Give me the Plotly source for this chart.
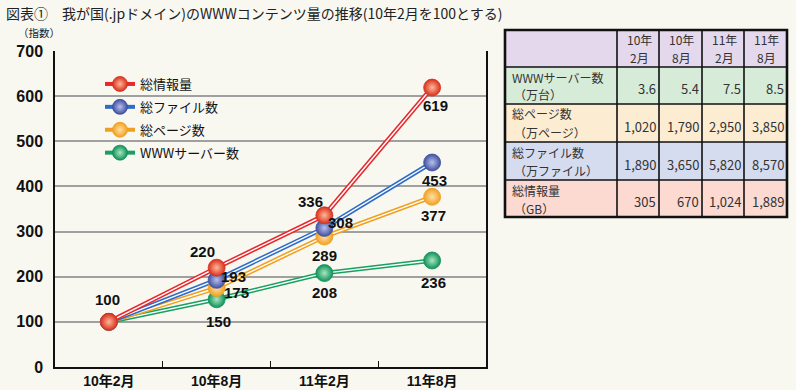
import plotly.graph_objects as go

# ---------------- data ----------------
categories = ["10年2月", "10年8月", "11年2月", "11年8月"]
series_names = ["総情報量", "総ファイル数", "総ページ数", "WWWサーバー数"]
info_vals = [100, 220, 336, 619]
file_vals = [100, 193, 308, 453]
page_vals = [100, 175, 289, 377]
server_vals = [100, 150, 208, 236]

table_header_top = ["10年", "10年", "11年", "11年"]
table_header_bottom = ["2月", "8月", "2月", "8月"]
table_label_top = ["WWWサーバー数", "総ページ数", "総ファイル数", "総情報量"]
table_label_bottom = ["（万台）", "（万ページ）", "（万ファイル）", "（GB）"]
table_server = ["3.6", "5.4", "7.5", "8.5"]
table_pages = ["1,020", "1,790", "2,950", "3,850"]
table_files = ["1,890", "3,650", "5,820", "8,570"]
table_info = ["305", "670", "1,024", "1,889"]

# ---------------- styling ----------------
BG = "#f8f8f1"
FONT_NUM = "Liberation Sans, Arial, Noto Sans CJK JP, sans-serif"
FONT_JP = "Noto Sans CJK JP, sans-serif"

styles = {
    "総情報量": dict(line="#e8282c", edge="#d8301c", center="#ffb89a"),
    "総ファイル数": dict(line="#2f6cc8", edge="#4050a0", center="#b8c0ec"),
    "総ページ数": dict(line="#f0a020", edge="#f0a020", center="#ffe0a8"),
    "WWWサーバー数": dict(line="#18a060", edge="#10905a", center="#a8e8c0"),
}
values = {"総情報量": info_vals, "総ファイル数": file_vals,
          "総ページ数": page_vals, "WWWサーバー数": server_vals}
# which points carry a value label, and label offsets (pixels) from the point
label_show = {"総情報量": [True, True, True, True],
              "総ファイル数": [False, True, True, True],
              "総ページ数": [False, True, True, True],
              "WWWサーバー数": [False, True, True, True]}
label_dx = {"総情報量": [-1, -14, -14, 3],
            "総ファイル数": [0, 17, 16, 2],
            "総ページ数": [0, 20, 0, 1],
            "WWWサーバー数": [0, 2, 0, 1]}
label_dy = {"総情報量": [22, 16, 14, -18],
            "総ファイル数": [0, 3, 5, -18],
            "総ページ数": [0, -4, -19, -19],
            "WWWサーバー数": [0, -22, -19, -22]}

fig = go.Figure()
draw_order = ["WWWサーバー数", "総ページ数", "総ファイル数", "総情報量"]

# double lines: coloured thick line + white thin centre
for name in draw_order:
    st = styles[name]
    fig.add_trace(go.Scatter(x=categories, y=values[name], mode="lines",
                             line=dict(color=st["line"], width=4.5),
                             showlegend=False, hoverinfo="skip"))
    fig.add_trace(go.Scatter(x=categories, y=values[name], mode="lines",
                             line=dict(color="white", width=1.4),
                             showlegend=False, hoverinfo="skip"))

# glossy markers
for name in draw_order:
    st = styles[name]
    fig.add_trace(go.Scatter(
        x=categories, y=values[name], mode="markers",
        marker=dict(size=17, color=st["edge"],
                    gradient=dict(type="radial", color=st["center"]),
                    line=dict(color=st["edge"], width=0.8)),
        showlegend=False, hoverinfo="skip"))

# legend entries
for name in series_names:
    st = styles[name]
    fig.add_trace(go.Scatter(
        x=[None], y=[None], mode="lines+markers", name=name, legendgroup=name,
        line=dict(color=st["line"], width=4),
        marker=dict(size=15, color=st["edge"],
                    gradient=dict(type="radial", color=st["center"]),
                    line=dict(color=st["edge"], width=0.8))))

# ---------------- layout helpers ----------------
L, R, T, B = 55, 486, 51, 367
W, H = 796, 390


def px(x):
    return (x - L) / (R - L)


def py(y):
    return (B - y) / (B - T)


annotations = []
shapes = []

# value labels
for name in series_names:
    for i, (cat, v) in enumerate(zip(categories, values[name])):
        if label_show[name][i]:
            annotations.append(dict(x=cat, y=v, xref="x", yref="y", text=str(v),
                                    showarrow=False, xshift=label_dx[name][i],
                                    yshift=label_dy[name][i], xanchor="center", yanchor="middle",
                                    font=dict(family=FONT_NUM, size=15, color="#111",
                                              weight="bold")))

# title
annotations.append(dict(text="図表①　我が国(.jpドメイン)のWWWコンテンツ量の推移(10年2月を100とする)",
                        x=px(4), y=py(13), xref="paper", yref="paper",
                        xanchor="left", yanchor="middle", showarrow=False,
                        font=dict(family=FONT_JP, size=14, color="#222")))
# y unit
annotations.append(dict(text="（指数）", x=px(39), y=py(33), xref="paper", yref="paper",
                        xanchor="center", yanchor="middle", showarrow=False,
                        font=dict(family=FONT_JP, size=10.5, color="#222")))

# ---------------- table ----------------
col_x = [505, 617, 659, 702, 744, 787]
row_y = [30, 67, 104, 142, 180, 217]
row_fills = ["#e4d8ec", "#d6ecd8", "#fcecd2", "#d6dcf0", "#fcdad2"]
row_data = [table_server, table_pages, table_files, table_info]

for r in range(5):
    shapes.append(dict(type="rect", xref="paper", yref="paper",
                       x0=px(col_x[0]), x1=px(col_x[-1]), y0=py(row_y[r]), y1=py(row_y[r + 1]),
                       fillcolor=row_fills[r], line=dict(width=0), layer="below"))
for yy in row_y[1:-1]:
    shapes.append(dict(type="line", xref="paper", yref="paper",
                       x0=px(col_x[0]), x1=px(col_x[-1]), y0=py(yy), y1=py(yy),
                       line=dict(color="#111", width=1.6)))
for xx in col_x[1:-1]:
    shapes.append(dict(type="line", xref="paper", yref="paper",
                       x0=px(xx), x1=px(xx), y0=py(row_y[0]), y1=py(row_y[-1]),
                       line=dict(color="#111", width=1.6)))
shapes.append(dict(type="rect", xref="paper", yref="paper",
                   x0=px(col_x[0]), x1=px(col_x[-1]), y0=py(row_y[0]), y1=py(row_y[-1]),
                   line=dict(color="#111", width=2.6)))

tfont = dict(family=FONT_JP, size=12, color="#333")
vfont = dict(family=FONT_JP, size=13, color="#333")


def cell_text(text, x, y, anchor, font=tfont):
    annotations.append(dict(text=text, x=px(x), y=py(y), xref="paper", yref="paper",
                            xanchor=anchor, yanchor="middle", showarrow=False, font=font))


for c in range(4):
    xc = (col_x[c + 1] + col_x[c + 2]) / 2 + 1
    cell_text(table_header_top[c], xc, row_y[0] + 9.5, "center")
    cell_text(table_header_bottom[c], xc, row_y[0] + 27.5, "center")
for r in range(4):
    top = row_y[r + 1]
    cell_text(table_label_top[r], col_x[0] + 5, top + 10, "left")
    cell_text(table_label_bottom[r], col_x[0] + 7, top + 28, "left")
    for c, v in enumerate(row_data[r]):
        cell_text(v, col_x[c + 2] - 1, (top + row_y[r + 2]) / 2 + 3, "right", vfont)

fig.update_layout(
    width=W, height=H,
    margin=dict(l=L, r=W - R, t=T, b=H - B, pad=0, autoexpand=False),
    paper_bgcolor=BG, plot_bgcolor=BG,
    showlegend=True,
    legend=dict(x=px(100), y=py(69), xanchor="left", yanchor="top",
                bgcolor="rgba(0,0,0,0)", font=dict(family=FONT_JP, size=13, color="#111"),
                itemwidth=30, tracegroupgap=3, traceorder="grouped"),
    annotations=annotations, shapes=shapes,
    xaxis=dict(type="category", range=[-0.5, 3.5], showgrid=False, automargin=False,
               showline=True, linecolor="#111", linewidth=1.5,
               ticks="inside", tickson="boundaries", ticklen=6, tickcolor="#111",
               tickfont=dict(family=FONT_NUM, size=14, color="#111", weight="bold"),
               fixedrange=True),
    yaxis=dict(range=[0, 700], dtick=100, showgrid=True, gridcolor="#a0a0a0", gridwidth=1.5,
               showline=True, linecolor="#111", linewidth=1.5, mirror=True, automargin=False,
               ticks="", zeroline=False,
               tickfont=dict(family=FONT_NUM, size=16, color="#111", weight="bold"),
               ticklabelstandoff=7, fixedrange=True),
)

fig.write_html("out.html", config={"displayModeBar": False},
               post_script="document.body.style.margin='0';"
                           "document.body.style.background='%s';" % BG)
